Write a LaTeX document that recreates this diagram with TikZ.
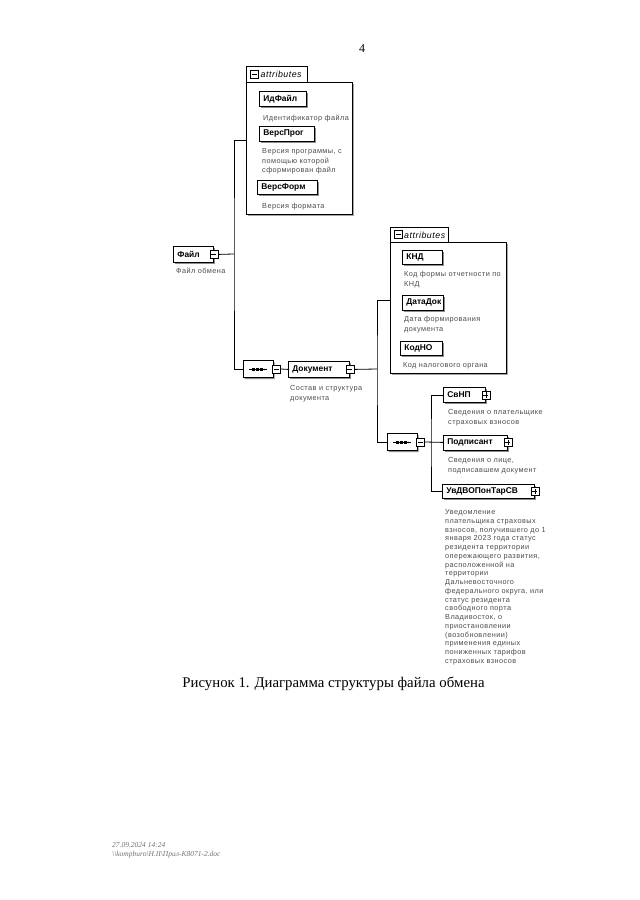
\documentclass[tikz,border=0pt]{standalone}
\usepackage{fontspec}
\setmainfont{Liberation Serif}
\newfontfamily\dg{Liberation Sans}
\newfontfamily\dgs[LetterSpace=6]{Liberation Sans}
\usetikzlibrary{shapes.misc,shadows,calc}

\tikzset{
  conn/.style={draw, line width=0.8pt},
  shad/.style={drop shadow={shadow xshift=1.6pt, shadow yshift=-1.6pt, fill=black!45, opacity=1}},
  elem/.style={draw, line width=0.8pt, fill=white, anchor=north west, shad,
    font=\dg\bfseries\fontsize{8.4}{9}\selectfont, inner xsep=4pt, inner ysep=0pt,
    minimum height=15pt, align=left, text width=#1},
  pm/.style={draw, line width=0.6pt, fill=white, minimum size=8pt, inner sep=0pt},
  pmminus/.style={pm, path picture={\draw[line width=0.6pt]
     ([xshift=-2.6pt]path picture bounding box.center) -- ([xshift=2.6pt]path picture bounding box.center);}},
  pmplus/.style={pm, path picture={\draw[line width=0.6pt]
     ([xshift=-2.6pt]path picture bounding box.center) -- ([xshift=2.6pt]path picture bounding box.center)
     ([yshift=-2.6pt]path picture bounding box.center) -- ([yshift=2.6pt]path picture bounding box.center);}},
  seqbox/.style={chamfered rectangle, chamfered rectangle xsep=5pt, chamfered rectangle ysep=5pt,
    draw, line width=0.8pt, fill=white, minimum width=30pt, minimum height=17pt, inner sep=0pt, shad,
    path picture={
      \draw[line width=0.9pt] ([xshift=-9pt]path picture bounding box.center) -- ([xshift=9pt]path picture bounding box.center);
      \draw[line width=3pt, dash pattern=on 2.6pt off 1.2pt] ([xshift=-5.7pt]path picture bounding box.center) -- ([xshift=5.7pt]path picture bounding box.center);}},
  abody/.style={draw, line width=0.8pt, fill=white, anchor=north west, inner sep=0pt,
    drop shadow={shadow xshift=1.2pt, shadow yshift=-1.2pt, fill=black!35, opacity=1}},
  atab/.style={draw, line width=0.8pt, fill=white, anchor=north west, inner sep=0pt},
  atxt/.style={anchor=west, inner sep=0pt, font=\dgs\itshape\fontsize{8.8}{9}\selectfont},
  desc/.style={anchor=north west, inner sep=0pt, align=left, text=black!70,
    font=\dgs\fontsize{7.3}{9.3}\selectfont},
}

\begin{document}
\begin{tikzpicture}[x=1pt,y=-1pt]
\fill[white] (0,0) rectangle (640,900);
\useasboundingbox (0,0) rectangle (640,900);

% page number
\node[font=\fontsize{12}{12}\selectfont] (pg) at (362,49) {4};

% ---------- attributes of Файл ----------
\node[atab, minimum width=61pt, minimum height=16pt] (tabA) at (246,66) {};
\node[abody, minimum width=106pt, minimum height=132pt] (attrA) at (246,82) {};
\draw[line width=0.8pt, fill=white] (246,82) -- (246,66) -- (307,66) -- (307,82);
\node[pmminus] (tabApm) at (254.5,74) {};
\node[atxt] (tabAtxt) at (260.5,74.5) {attributes};

\node[elem=39pt] (idf) at (259,91) {ИдФайл};
\node[desc] (dId) at (263,114.5) {Идентификатор файла};
\node[elem=47pt] (vp) at (259,126) {ВерсПрог};
\node[desc] (dVP) at (262,148.5) {Версия программы, с\\помощью которой\\сформирован файл};
\node[elem=52pt, minimum height=14pt] (vf) at (257,180) {ВерсФорм};
\node[desc] (dVF) at (262,203.5) {Версия формата};

% ---------- Файл ----------
\node[elem=32pt, minimum height=16pt] (fajl) at (173,246) {Файл};
\node[pmminus] (fajlpm) at (fajl.east) {};
\node[desc] (dFajl) at (176,267.5) {Файл обмена};

\coordinate (busA) at (234,254);
\coordinate (inA) at (attrA.west |- 0,140);
\draw[conn] (fajlpm.east) -- (busA);

% sequence 1
\node[seqbox] (seq1) at (258,369) {};
\node[pmminus] (seq1pm) at (276.5,369) {};
\draw[conn] (inA) -| (busA) |- (seq1.west);

% ---------- Документ ----------
\node[elem=53pt, minimum height=16pt] (dok) at (288,361) {Документ};
\node[pmminus] (dokpm) at (dok.east) {};
\node[desc] (dDok) at (290,385.5) {Состав и структура\\документа};
\draw[conn] (seq1pm.east) -- (dok.west);

% ---------- attributes of Документ ----------
\node[atab, minimum width=58pt, minimum height=15pt] (tabB) at (390,227) {};
\node[abody, minimum width=116pt, minimum height=131pt] (attrB) at (390,242) {};
\draw[line width=0.8pt, fill=white] (390,242) -- (390,227) -- (448,227) -- (448,242);
\node[pmminus] (tabBpm) at (398.5,234.5) {};
\node[atxt] (tabBtxt) at (404,235) {attributes};

\node[elem=32pt, minimum height=14pt] (knd) at (402,250) {КНД};
\node[desc] (dKND) at (404,271.5) {Код формы отчетности по\\КНД};
\node[elem=33pt] (dd) at (402,295) {ДатаДок};
\node[desc] (dDD) at (404,316.5) {Дата формирования\\документа};
\node[elem=34pt, minimum height=14pt] (kno) at (400,341) {КодНО};
\node[desc] (dKNO) at (403,362.5) {Код налогового органа};

\coordinate (busB) at (377,369);
\coordinate (inB) at (attrB.west |- 0,300);
\draw[conn] (dokpm.east) -- (busB);

% sequence 2
\node[seqbox] (seq2) at (402,442) {};
\node[pmminus] (seq2pm) at (420.5,442) {};
\draw[conn] (inB) -| (busB) |- (seq2.west);

% ---------- children of sequence 2 ----------
\node[elem=34pt] (svnp) at (443,387) {СвНП};
\node[pmplus] (svnppm) at (svnp.east) {};
\node[desc] (dSv) at (448,409.5) {Сведения о плательщике\\страховых взносов};

\node[elem=56pt] (podp) at (443,434.5) {Подписант};
\node[pmplus] (podppm) at (podp.east) {};
\node[desc] (dPod) at (448,457.5) {Сведения о лице,\\подписавшем документ};

\node[elem=84pt, minimum height=14pt] (uvd) at (442,484) {УвДВОПонТарСВ};
\node[pmplus] (uvdpm) at (uvd.east) {};
\node[desc, font=\dgs\fontsize{7.3}{8.75}\selectfont] (dUv) at (445,509.5) {Уведомление\\плательщика страховых\\взносов, получившего до 1\\января 2023 года статус\\резидента территории\\опережающего развития,\\расположенной на\\территории\\Дальневосточного\\федерального округа, или\\статус резидента\\свободного порта\\Владивосток, о\\приостановлении\\(возобновлении)\\применения единых\\пониженных тарифов\\страховых взносов};

\coordinate (busC) at (431,442);
\draw[conn] (seq2pm.east) -- (podp.west);
\draw[conn] (svnp.west) -| (busC) |- (uvd.west);

% caption
\node[font=\fontsize{14.8}{16}\selectfont] (cap) at (333.5,684) {Рисунок 1. Диаграмма структуры файла обмена};

% footer
\node[anchor=base west, inner sep=0pt, text=black!55, font=\itshape\fontsize{7.5}{9}\selectfont] (f1) at (112,847) {27.09.2024 14:24};
\node[anchor=base west, inner sep=0pt, text=black!55, font=\itshape\fontsize{7.5}{9}\selectfont] (f2) at (112,856) {\textbackslash\textbackslash kompburo\textbackslash H.II\textbackslash Прил-К8071-2.doc};
\end{tikzpicture}
\end{document}
